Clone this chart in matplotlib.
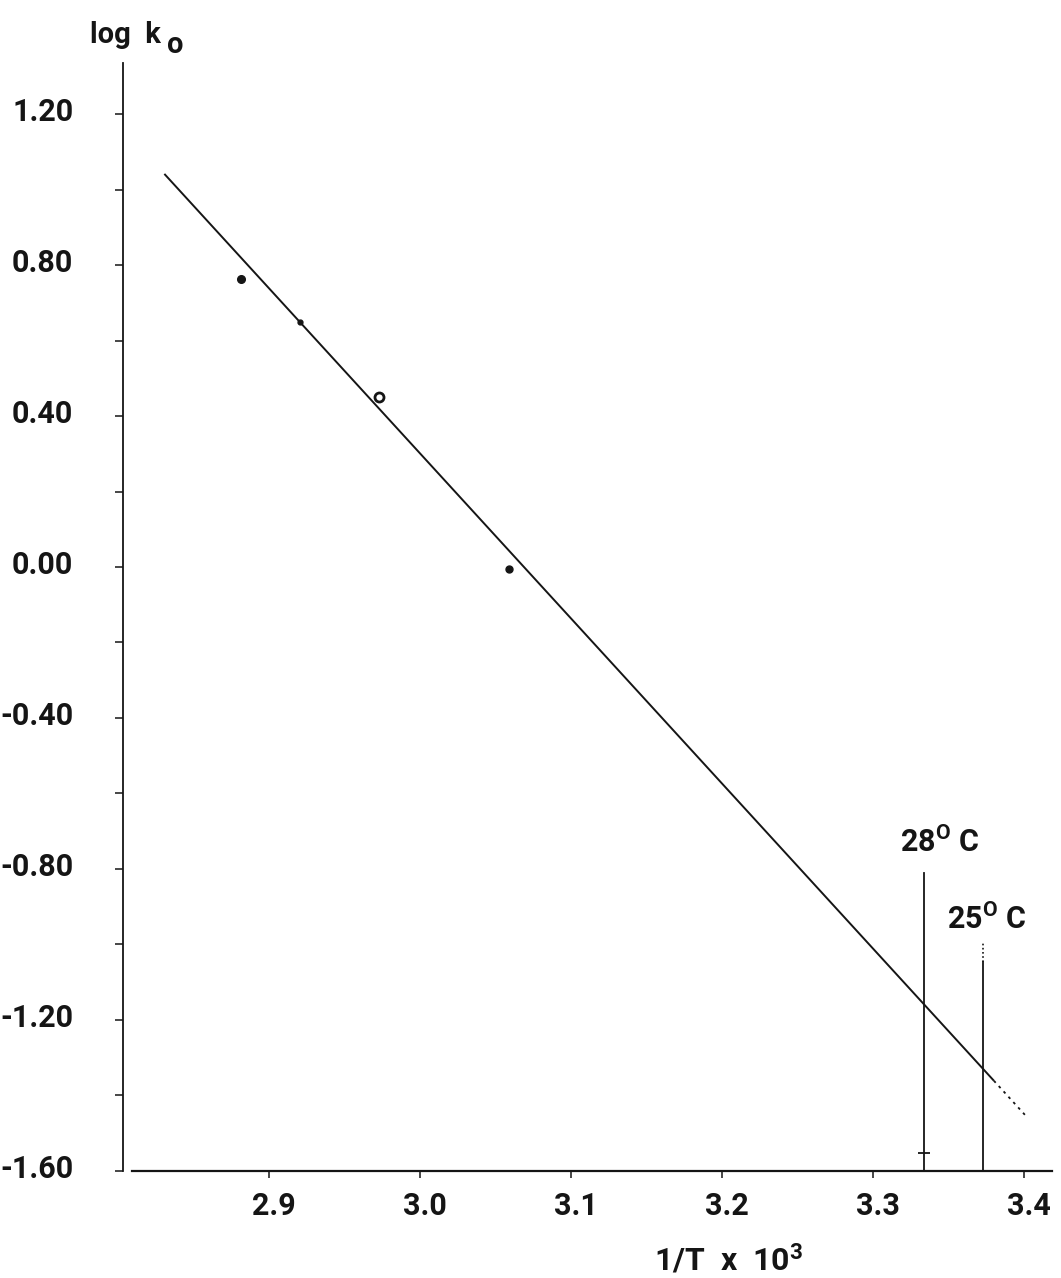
import matplotlib
matplotlib.use("Agg")
import matplotlib.pyplot as plt
from matplotlib.ticker import FixedLocator
from matplotlib.transforms import ScaledTranslation

plt.rcParams['font.family'] = ['Roboto', 'DejaVu Sans']
plt.rcParams['font.weight'] = 'bold'
plt.rcParams['mathtext.fontset'] = 'custom'
plt.rcParams['mathtext.rm'] = 'Roboto:bold'
plt.rcParams['mathtext.it'] = 'Roboto:italic:bold'
plt.rcParams['mathtext.bf'] = 'Roboto:bold'

# ---- data ----
x_ticks = [2.9, 3.0, 3.1, 3.2, 3.3, 3.4]
x_tick_labels = ["2.9", "3.0", "3.1", "3.2", "3.3", "3.4"]
y_major = [1.20, 0.80, 0.40, 0.00, -0.40, -0.80, -1.20, -1.60]
y_major_labels = ["1.20", "0.80", "0.40", "0.00", "-0.40", "-0.80", "-1.20", "-1.60"]
y_minor = [1.00, 0.60, 0.20, -0.20, -0.60, -1.00, -1.40]

# experimental points (1/T x 10^3, log k0)
pts_x = [2.881, 2.9205, 2.973, 3.059]
pts_y = [0.763, 0.650, 0.451, -0.006]

# fitted straight line (solid part) and its dotted extension
fit_x = [2.8305, 3.380]
fit_y = [1.042, -1.362]
ext_x = [3.380, 3.4025]
ext_y = [-1.362, -1.461]

# temperature markers
temp_labels = ["28", "25"]
temp_x = [3.3338, 3.3725]
temp_top = [-0.811, -1.047]
temp_dot_top = [-0.811, -0.997]
label_x = [3.3181, 3.3488]
label_y = [-0.771, -0.975]

XMIN, XMAX = 2.8033, 3.4183
YMIN, YMAX = -1.60, 1.336

W, H = 1061, 1278
fig = plt.figure(figsize=(W / 100, H / 100), dpi=100)
ax = fig.add_axes([123.3 / W, (H - 1170.5) / H, (1051.7 - 123.3) / W, (1170.5 - 63) / H])
ax.set_xlim(XMIN, XMAX)
ax.set_ylim(YMIN, YMAX)

ink = '#151515'
for s in ['top', 'right']:
    ax.spines[s].set_visible(False)
ax.spines['left'].set_color(ink)
ax.spines['bottom'].set_color(ink)
ax.spines['left'].set_linewidth(1.3)
ax.spines['bottom'].set_linewidth(1.6)
ax.spines['bottom'].set_bounds(2.8092, XMAX)

ax.xaxis.set_major_locator(FixedLocator(x_ticks))
ax.set_xticklabels(x_tick_labels)
ax.yaxis.set_major_locator(FixedLocator(y_major))
ax.set_yticklabels(y_major_labels)
ax.yaxis.set_minor_locator(FixedLocator(y_minor))

ax.tick_params(axis='x', which='major', direction='out', length=5, width=1.1,
               colors=ink, labelsize=22, pad=10)
ax.tick_params(axis='y', which='major', direction='out', length=6, width=1.1,
               colors=ink, labelsize=22, pad=30)
ax.tick_params(axis='y', which='minor', direction='out', length=6, width=1.1, colors=ink)

# nudge y tick labels slightly upward and x labels slightly right, as typed in the original
for lab in ax.get_yticklabels():
    lab.set_transform(lab.get_transform() + ScaledTranslation(0, 0.05, fig.dpi_scale_trans))
for lab in ax.get_xticklabels():
    lab.set_transform(lab.get_transform() + ScaledTranslation(0.05, 0, fig.dpi_scale_trans))

# fitted line
ax.plot(fit_x, fit_y, color=ink, lw=1.4, solid_capstyle='butt')
ax.plot(ext_x, ext_y, color=ink, lw=1.3, ls=(0, (1.5, 2.5)))

# data points
ax.plot(pts_x[0], pts_y[0], 'o', ms=5.5, color=ink)
ax.plot(pts_x[1], pts_y[1], 'o', ms=3.5, color=ink)
ax.plot(pts_x[2], pts_y[2], 'o', ms=6.5, mfc='white', mec=ink, mew=2.0)
ax.plot(pts_x[3], pts_y[3], 'o', ms=5, color=ink)

# temperature verticals
for i in range(len(temp_x)):
    ax.plot([temp_x[i], temp_x[i]], [YMIN, temp_top[i]], color=ink, lw=1.3)
    if temp_dot_top[i] > temp_top[i]:
        ax.plot([temp_x[i], temp_x[i]], [temp_top[i], temp_dot_top[i]],
                color=ink, lw=1.2, ls=(0, (1, 1.5)))
    ax.text(label_x[i], label_y[i], temp_labels[i] + r"$^{\mathrm{O}}$ C",
            fontsize=22, color=ink, ha='left', va='bottom')
ax.plot([temp_x[0]], [-1.554], marker='_', ms=8, mew=1.3, color=ink)

# axis labels
fig.text(90 / W, 1 - 43 / H, "log  k", fontsize=21, color=ink,
         ha='left', va='baseline')
fig.text(167 / W, 1 - 53 / H, "o", fontsize=21, color=ink,
         ha='left', va='baseline')
fig.text(729 / W, 1 - 1271 / H, r"1/T  x  10$^{\mathrm{3}}$", fontsize=23, color=ink,
         ha='center', va='baseline')

fig.savefig("out.png", dpi=100, facecolor='white')
